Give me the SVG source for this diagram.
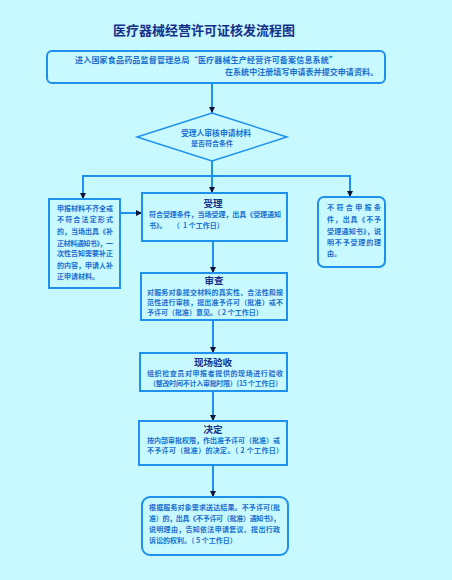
<svg xmlns="http://www.w3.org/2000/svg" width="452" height="580" viewBox="0 0 452 580">
<defs>
<marker id="ah" markerUnits="userSpaceOnUse" markerWidth="6" markerHeight="6" viewBox="0 0 6 6" refX="6" refY="3" orient="auto">
<path d="M0,0 L6,3 L0,6 Z" fill="#101030"/>
</marker>
<style>
.bx{fill:#c8f9ff;stroke:#1e90ee;stroke-width:2}
.cn{fill:none;stroke:#1e90ee;stroke-width:2}
.t{font-family:"Noto Sans CJK SC","Noto Sans",sans-serif;fill:#1a6fd0;font-size:7px;font-weight:bold}
.h{font-family:"Noto Sans CJK SC","Noto Sans",sans-serif;fill:#15308a;font-size:9.5px;font-weight:bold;text-anchor:middle}
.c{text-anchor:middle}
</style>
</defs>
<rect width="452" height="580" fill="#c8f9ff"/>
<text x="204" y="35" class="h" style="font-size:13px">医疗器械经营许可证核发流程图</text>

<g id="connectors">
<line class="cn" x1="212" y1="83" x2="212" y2="113" marker-end="url(#ah)"/>
<line class="cn" x1="212" y1="161" x2="212" y2="193" marker-end="url(#ah)"/>
<polyline class="cn" points="83,199 83,176 350,176 350,197"/>
<line class="cn" x1="83" y1="186" x2="83" y2="199" marker-end="url(#ah)"/>
<line class="cn" x1="350" y1="186" x2="350" y2="197" marker-end="url(#ah)"/>
<line class="cn" x1="120" y1="213" x2="142" y2="213" marker-end="url(#ah)"/>
<line class="cn" x1="213" y1="241" x2="213" y2="273" marker-end="url(#ah)"/>
<line class="cn" x1="213" y1="320" x2="213" y2="353" marker-end="url(#ah)"/>
<line class="cn" x1="213" y1="391" x2="213" y2="421" marker-end="url(#ah)"/>
<line class="cn" x1="213" y1="465" x2="213" y2="497" marker-end="url(#ah)"/>
</g>

<g id="start">
<rect class="bx" x="47" y="51" width="338" height="32" rx="5"/>
<text class="t" x="75" y="63" style="font-size:8px" textLength="262" lengthAdjust="spacing">进入国家食品药品监督管理总局“医疗器械生产经营许可备案信息系统”</text>
<text class="t" x="225" y="75" style="font-size:8px" textLength="153" lengthAdjust="spacing">在系统中注册填写申请表并提交申请资料。</text>
</g>

<g id="check">
<polygon points="212,113 287,137 212,161 137,137" fill="#c8f9ff" stroke="#1e90ee" stroke-width="1.5"/>
<text class="t c" x="216" y="135.5" style="font-size:7.8px">受理人审核申请材料</text>
<text class="t c" x="212" y="146" style="font-size:7px">是否符合条件</text>
</g>

<g id="correct">
<rect class="bx" x="49" y="199" width="71" height="89"/>
<text class="t" x="57" y="210.5" textLength="56" lengthAdjust="spacing">申报材料不齐全或</text>
<text class="t" x="57" y="222" textLength="56" lengthAdjust="spacing">不符合法定形式</text>
<text class="t" x="57" y="234" textLength="56" lengthAdjust="spacing">的，当场出具《补</text>
<text class="t" x="57" y="245.5" textLength="56" lengthAdjust="spacing">正材料通知书》，一</text>
<text class="t" x="57" y="256" textLength="56" lengthAdjust="spacing">次性告知需要补正</text>
<text class="t" x="57" y="267.5" textLength="56" lengthAdjust="spacing">的内容，申请人补</text>
<text class="t" x="57" y="278.5">正申请材料。</text>
</g>

<g id="accept">
<rect class="bx" x="142" y="193" width="145" height="48"/>
<text class="h" x="213" y="206.5">受理</text>
<text class="t" x="149" y="216.5" textLength="132" lengthAdjust="spacing">符合受理条件，当场受理，出具《受理通知</text>
<text class="t" x="149" y="228" xml:space="preserve">书》。    （  1 个工作日）</text>
</g>

<g id="reject">
<rect class="bx" x="318" y="197" width="67" height="70" rx="6"/>
<text class="t" x="327" y="209.5" textLength="54" lengthAdjust="spacing">不符合申报条</text>
<text class="t" x="327" y="222" textLength="54" lengthAdjust="spacing">件，出具《不予</text>
<text class="t" x="327" y="233.5" textLength="54" lengthAdjust="spacing">受理通知书》，说</text>
<text class="t" x="327" y="244.5" textLength="54" lengthAdjust="spacing">明不予受理的理</text>
<text class="t" x="327" y="255.5">由。</text>
</g>

<g id="review">
<rect class="bx" x="141" y="273" width="146" height="47"/>
<text class="h" x="214" y="284">审查</text>
<text class="t" x="147" y="294.5" textLength="136" lengthAdjust="spacing">对服务对象提交材料的真实性、合法性和规</text>
<text class="t" x="147" y="304.5" textLength="136" lengthAdjust="spacing">范性进行审核，提出准予许可（批准）或不</text>
<text class="t" x="147" y="314.5" xml:space="preserve">予许可（批准）意见。（ 2 个工作日）</text>
</g>

<g id="inspect">
<rect class="bx" x="140" y="353" width="147" height="38"/>
<text class="h" x="213" y="366">现场验收</text>
<text class="t" x="147" y="376" textLength="136" lengthAdjust="spacing">组织检查员对申报者提供的现场进行验收</text>
<text class="t" x="149" y="386" textLength="133" lengthAdjust="spacing">（整改时间不计入审批时限）(15 个工作日）</text>
</g>

<g id="decide">
<rect class="bx" x="139" y="421" width="148" height="44"/>
<text class="h" x="213" y="432.5">决定</text>
<text class="t" x="147" y="442.5" textLength="133" lengthAdjust="spacing">按内部审批权限，作出准予许可（批准）或</text>
<text class="t" x="147" y="452.5" textLength="136" lengthAdjust="spacing" xml:space="preserve">不予许可（批准）的决定。（ 2 个工作日）</text>
</g>

<g id="deliver">
<rect class="bx" x="142" y="497" width="146" height="58" rx="8"/>
<text class="t" x="149" y="509.5" textLength="131" lengthAdjust="spacing">根据服务对象需求送达结果。不予许可(批</text>
<text class="t" x="149" y="520.5" textLength="131" lengthAdjust="spacing">准）的，出具《不予许可（批准）通知书》，</text>
<text class="t" x="149" y="531.5" textLength="131" lengthAdjust="spacing">说明理由，告知依法申请复议、提出行政</text>
<text class="t" x="149" y="542.5" xml:space="preserve">诉讼的权利。（ 5 个工作日）</text>
</g>
</svg>
